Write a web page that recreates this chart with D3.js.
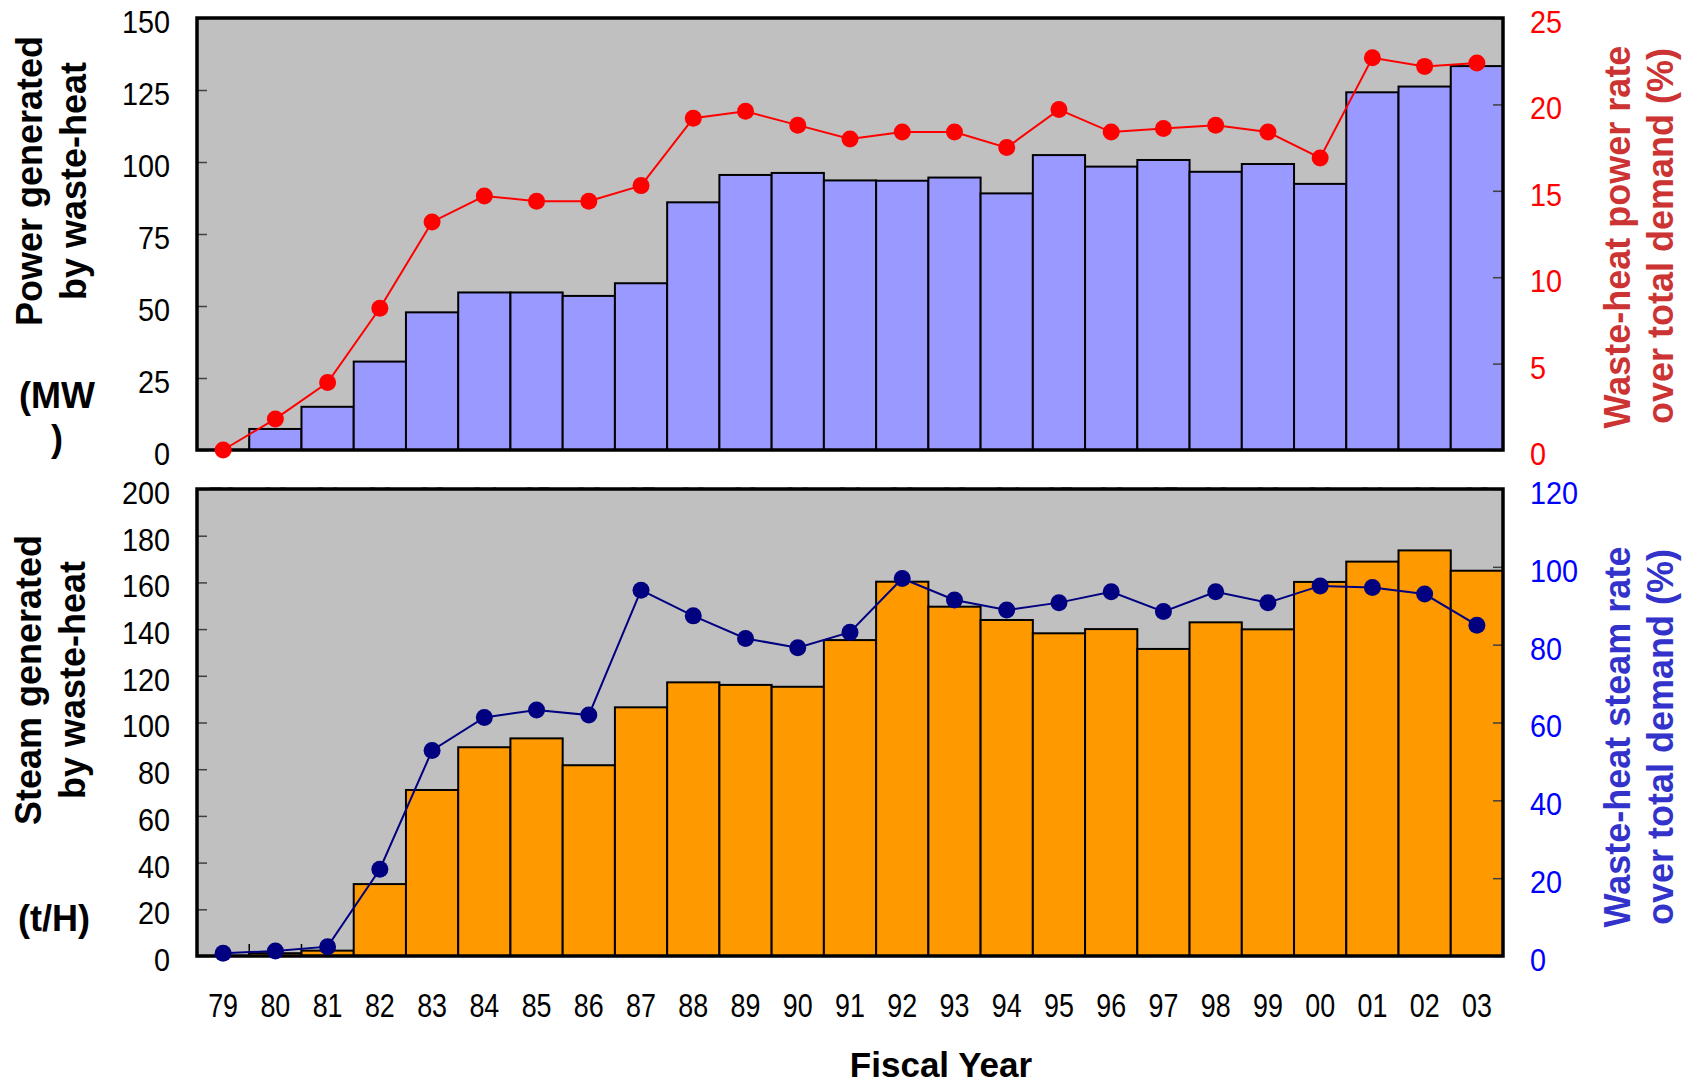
<!DOCTYPE html>
<html>
<head>
<meta charset="utf-8">
<script src="https://cdn.jsdelivr.net/npm/d3@7"></script>
<style>
  html, body { margin: 0; padding: 0; background: #ffffff; }
  svg { display: block; font-family: "Liberation Sans", Arial, sans-serif; }
</style>
</head>
<body>
<svg id="chart" width="1691" height="1085"></svg>
<script>
// Fiscal years (two-digit)
const years = ["79","80","81","82","83","84","85","86","87","88","89","90","91","92","93","94","95","96","97","98","99","00","01","02","03"];

// Power generated by waste heat (MW)
const powerMW = [0, 7.3, 15.0, 30.7, 47.8, 54.7, 54.7, 53.5, 57.9, 86.0, 95.5, 96.2, 93.6, 93.5, 94.6, 89.1, 102.4, 98.4, 100.7, 96.6, 99.3, 92.4, 124.2, 126.2, 133.3];
// Waste-heat power share of total demand (%)
const powerRate = [0, 1.8, 3.9, 8.2, 13.2, 14.7, 14.4, 14.4, 15.3, 19.2, 19.6, 18.8, 18.0, 18.4, 18.4, 17.5, 19.7, 18.4, 18.6, 18.8, 18.4, 16.9, 22.7, 22.2, 22.4];

// Steam generated by waste heat (t/H)
const steamTH = [0, 1.2, 2.3, 30.8, 71.1, 89.4, 93.2, 81.7, 106.5, 117.2, 116.1, 115.3, 135.3, 160.3, 149.6, 143.9, 138.2, 140.0, 131.5, 142.9, 139.9, 160.2, 168.9, 173.7, 165.0];
// Waste-heat steam share of total demand (%)
const steamRate = [0.7, 1.3, 2.4, 22.3, 52.8, 61.3, 63.2, 61.9, 94.0, 87.4, 81.6, 79.2, 83.2, 97.0, 91.5, 88.9, 90.8, 93.6, 88.5, 93.6, 90.8, 95.1, 94.7, 93.0, 85.0];

// Axis ticks
const powerTicks = [0, 25, 50, 75, 100, 125, 150];
const powerRateTicks = [0, 5, 10, 15, 20, 25];
const steamTicks = [0, 20, 40, 60, 80, 100, 120, 140, 160, 180, 200];
const steamRateTicks = [0, 20, 40, 60, 80, 100, 120];

const svg = d3.select("#chart");
const plotLeft = 197, plotRight = 1503;

const x = d3.scaleBand().domain(years).range([plotLeft, plotRight]).padding(0);

// condensed numeric labels
function condense(sel, sx) {
  sel.each(function () {
    const t = d3.select(this);
    const tx = +t.attr("x") || 0;
    t.attr("x", 0).attr("transform", `translate(${tx},0) scale(${sx},1)`);
  });
}

function panel(opts) {
  const { top, bottom, values, rates, vMax, rMax, vTicks, rTicks, barFill, lineColor, rateTextColor } = opts;
  const g = svg.append("g");
  const yL = d3.scaleLinear().domain([0, vMax]).range([bottom, top]);
  const yR = d3.scaleLinear().domain([0, rMax]).range([bottom, top]);

  // plot background
  g.append("rect").attr("x", plotLeft).attr("y", top)
    .attr("width", plotRight - plotLeft).attr("height", bottom - top)
    .attr("fill", "#c0c0c0");

  // category ticks along the bottom, pointing inward
  g.append("g").selectAll("line").data(years.slice(1)).join("line")
    .attr("x1", d => x(d)).attr("x2", d => x(d))
    .attr("y1", bottom).attr("y2", bottom - 12)
    .attr("stroke", "#000").attr("stroke-width", 1.5);

  // bars
  g.append("g").selectAll("rect").data(values).join("rect")
    .attr("x", (d, i) => x(years[i]))
    .attr("width", x.bandwidth())
    .attr("y", d => yL(d))
    .attr("height", d => bottom - yL(d))
    .attr("fill", barFill)
    .attr("stroke", "#000").attr("stroke-width", 2);

  // left axis
  const axL = g.append("g").attr("transform", `translate(${plotLeft},0)`)
    .call(d3.axisLeft(yL).tickValues(vTicks).tickSizeInner(-10).tickSizeOuter(0).tickPadding(27));
  axL.select(".domain").remove();
  axL.selectAll(".tick line").attr("stroke", "#404040").attr("stroke-width", 1.5);
  axL.selectAll(".tick text").attr("fill", "#000").attr("font-size", 32)
    .attr("dy", "0.45em").call(condense, 0.9);
  axL.attr("font-family", null);

  // right axis
  const axR = g.append("g").attr("transform", `translate(${plotRight},0)`)
    .call(d3.axisRight(yR).tickValues(rTicks).tickSizeInner(-10).tickSizeOuter(0).tickPadding(27));
  axR.select(".domain").remove();
  axR.selectAll(".tick line").attr("stroke", "#404040").attr("stroke-width", 1.5);
  axR.selectAll(".tick text").attr("fill", rateTextColor).attr("font-size", 32)
    .attr("dy", "0.45em").call(condense, 0.9);
  axR.attr("font-family", null);

  // frame
  g.append("rect").attr("x", plotLeft).attr("y", top)
    .attr("width", plotRight - plotLeft).attr("height", bottom - top)
    .attr("fill", "none").attr("stroke", "#000").attr("stroke-width", 3.5);

  // rate line and markers
  const line = d3.line().x((d, i) => x(years[i]) + x.bandwidth() / 2).y(d => yR(d));
  g.append("path").datum(rates).attr("d", line)
    .attr("fill", "none").attr("stroke", lineColor).attr("stroke-width", 2);
  g.append("g").selectAll("circle").data(rates).join("circle")
    .attr("cx", (d, i) => x(years[i]) + x.bandwidth() / 2)
    .attr("cy", d => yR(d))
    .attr("r", 8.5)
    .attr("fill", lineColor);

  return g;
}

// x labels of the upper panel sit behind the lower panel; only their tops show
svg.append("defs").append("clipPath").attr("id", "upperLabelClip")
  .append("rect").attr("x", 0).attr("y", 0).attr("width", 1691).attr("height", 488);

const upperLabels = svg.append("g").attr("clip-path", "url(#upperLabelClip)");
upperLabels.selectAll("text").data(years).join("text")
  .attr("transform", d => `translate(${x(d) + x.bandwidth() / 2},510) scale(0.79,1)`)
  .attr("text-anchor", "middle").attr("font-size", 34).attr("fill", "#808080")
  .text(d => d);

panel({
  top: 18, bottom: 450, values: powerMW, rates: powerRate,
  vMax: 150, rMax: 25, vTicks: powerTicks, rTicks: powerRateTicks,
  barFill: "#9999ff", lineColor: "#ff0000", rateTextColor: "#ff0000"
});

panel({
  top: 489, bottom: 956, values: steamTH, rates: steamRate,
  vMax: 200, rMax: 120, vTicks: steamTicks, rTicks: steamRateTicks,
  barFill: "#ff9900", lineColor: "#000080", rateTextColor: "#0000ff"
});

// fiscal year labels under the lower panel
svg.append("g").selectAll("text").data(years).join("text")
  .attr("transform", d => `translate(${x(d) + x.bandwidth() / 2},1017) scale(0.79,1)`)
  .attr("text-anchor", "middle").attr("font-size", 34).attr("fill", "#000")
  .text(d => d);

svg.append("text").attr("x", 941).attr("y", 1077)
  .attr("text-anchor", "middle").attr("font-size", 35).attr("font-weight", "bold")
  .text("Fiscal Year");

// axis titles
function vTitle(text, bx, cy, color) {
  svg.append("text")
    .attr("transform", `translate(${bx},${cy}) rotate(-90)`)
    .attr("text-anchor", "middle").attr("font-size", 36).attr("font-weight", "bold")
    .attr("fill", color).text(text);
}
vTitle("Power generated", 42, 181, "#000");
vTitle("by waste-heat", 86, 181, "#000");
vTitle("Steam generated", 41, 680, "#000");
vTitle("by waste-heat", 85, 680, "#000");
vTitle("Waste-heat power rate", 1630, 237, "#cc3333");
vTitle("over total demand (%)", 1673, 236, "#cc3333");
vTitle("Waste-heat steam rate", 1630, 737, "#3333cc");
vTitle("over total demand (%)", 1673, 737, "#3333cc");

// units
const unitStyle = t => t.attr("text-anchor", "middle").attr("font-size", 36).attr("font-weight", "bold").attr("fill", "#000");
svg.append("text").attr("x", 57).attr("y", 408).call(unitStyle).text("(MW");
svg.append("text").attr("x", 57).attr("y", 451).call(unitStyle).text(")");
svg.append("text").attr("x", 54).attr("y", 931).call(unitStyle).text("(t/H)");
</script>
</body>
</html>
